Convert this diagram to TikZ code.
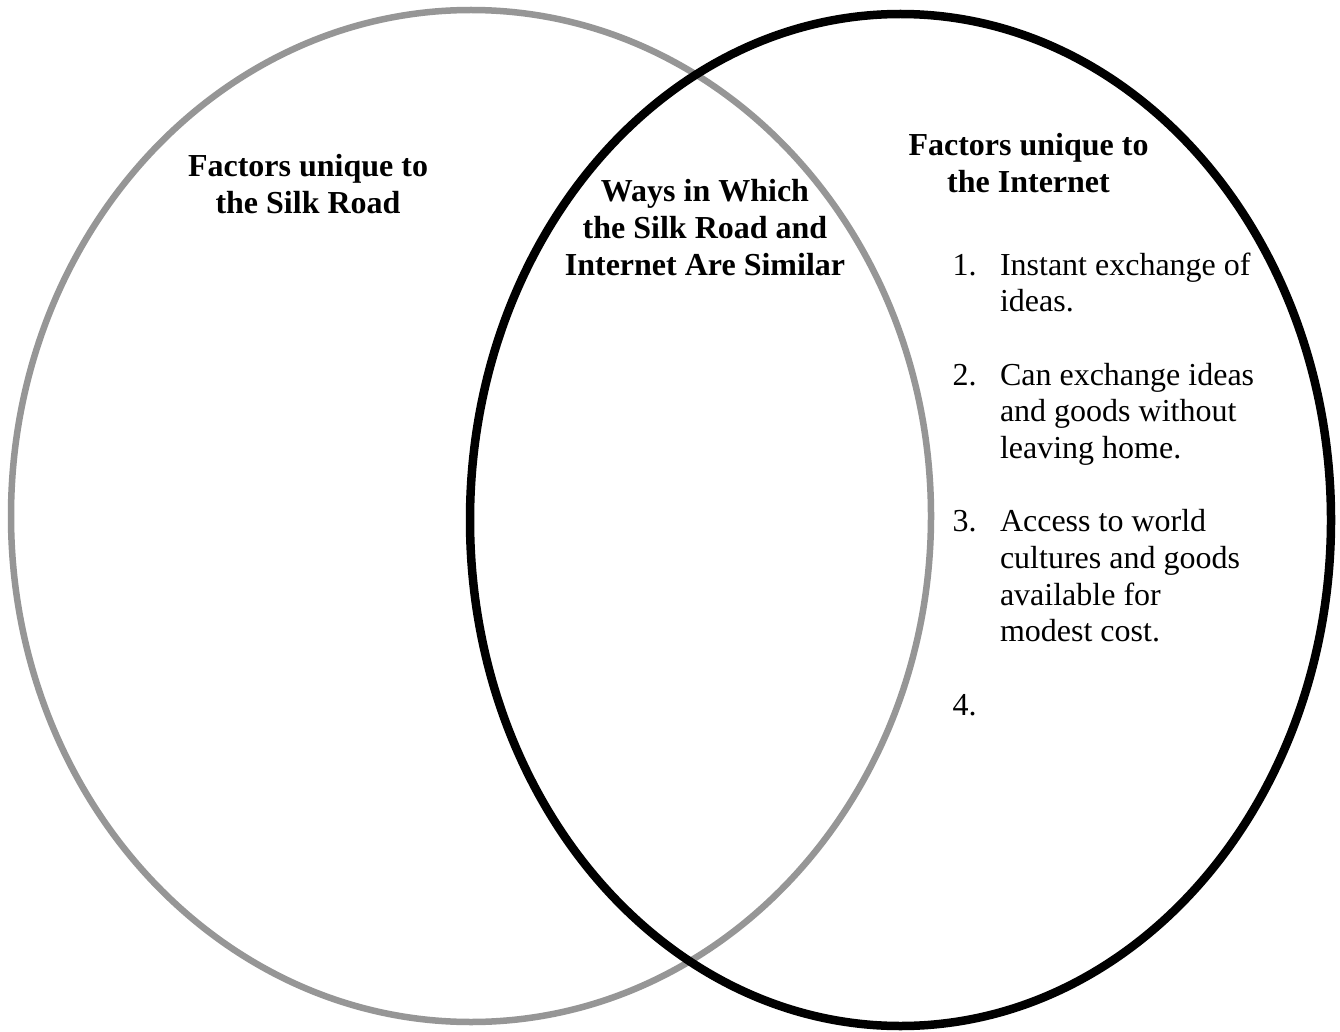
\documentclass[tikz,border=0pt]{standalone}
\usepackage{fontspec}
\setmainfont{Liberation Serif}
\definecolor{ringgray}{RGB}{150,150,150}
\begin{document}
\begin{tikzpicture}[x=1pt,y=-1pt,
  txt/.style={inner sep=0pt,outer sep=0pt,font=\fontsize{32}{36.7}\selectfont},
  head/.style={txt,font=\fontsize{32}{36.7}\selectfont\bfseries,anchor=base},
  item/.style={txt,anchor=base west}]
\useasboundingbox (0,0) rectangle (1340,1032);
\fill[white] (0,0) rectangle (1340,1032);
% circles
\draw[ringgray,line width=6.5pt] (471,516) ellipse [x radius=460pt, y radius=506pt];
\draw[black,line width=8.5pt] (900.5,520) ellipse [x radius=430.5pt, y radius=506pt];
% left heading
\node[head] (sl1) at (308,177) {Factors unique to};
\node[head] (sl2) at (308,213.5) {the Silk Road};
% middle heading
\node[head] (m1) at (705,201.7) {Ways in Which};
\node[head] (m2) at (705,238.5) {the Silk Road and};
\node[head] (m3) at (705,275) {Internet Are Similar};
% right heading
\node[head] (in1) at (1028.5,156) {Factors unique to};
\node[head] (in2) at (1028.5,192.7) {the Internet};
% list
\node[item] (n1) at (952.5,275) {1.};
\node[item] (t1a) at (1000,275) {Instant exchange of};
\node[item] (t1b) at (1000,311.7) {ideas.};
\node[item] (n2) at (952.5,385) {2.};
\node[item] (t2a) at (1000,385) {Can exchange ideas};
\node[item] (t2b) at (1000,421.7) {and goods without};
\node[item] (t2c) at (1000,458.4) {leaving home.};
\node[item] (n3) at (952.5,531.8) {3.};
\node[item] (t3a) at (1000,531.8) {Access to world};
\node[item] (t3b) at (1000,568.5) {cultures and goods};
\node[item] (t3c) at (1000,605.2) {available for};
\node[item] (t3d) at (1000,641.9) {modest cost.};
\node[item] (n4) at (952.5,715.3) {4.};
\end{tikzpicture}
\end{document}
